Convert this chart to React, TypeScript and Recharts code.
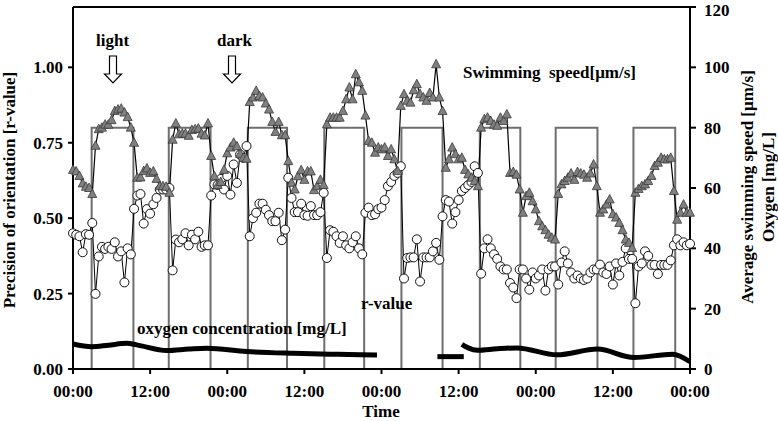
import React from "react";
import { ComposedChart, Line, XAxis, YAxis, ReferenceLine } from "recharts";

// time grid, every half hour over four days
const HOURS = Array.from({ length: 193 }, (_, i) => i * 0.5);

// average swimming speed [µm/s], right axis
const SPEED = [
  66, 65.5, 64, 61.5, 60.4, 60, 58, 74, 79.5, 80,
  81, 81, 82.5, 85.5, 86, 86.3, 85, 83.5, 80, 75,
  63.4, 63.5, 65.6, 66.5, 65, 65.5, 63, 60.6, 60.6, 60.4,
  58.4, 76, 81.4, 77.8, 78, 78, 77.3, 79.2, 79.5, 79.7,
  78, 77.4, 81.4, 70.6, 63.9, 61, 62, 66, 71.5, 73.4,
  75, 73.8, 71.3, 70, 69.7, 88.5, 90, 92.2, 90.5, 90,
  88, 86, 81.9, 78.6, 81.9, 77.5, 77.5, 68.9, 61.7, 59.5,
  63.9, 65.9, 62.7, 65.5, 65.5, 59.3, 60.6, 62.7, 61, 81.1,
  83.3, 83.3, 83.3, 83.3, 85.5, 89.4, 93.3, 89.4, 97.7, 95,
  92.2, 84, 75.6, 75, 71.7, 73.4, 72.8, 73.4, 70.6, 72.8,
  69.5, 65.6, 87.2, 91.1, 88.9, 88.3, 92.4, 94.4, 91.1, 90,
  88.9, 91.5, 90, 101, 90, 85.5, 66.7, 69.5, 73.4, 71.2,
  69.5, 70, 66, 64.5, 63.4, 62.3, 60.6, 80, 82.8, 83.3,
  82.2, 81, 80.6, 83.3, 82.2, 84.4, 65, 65.3, 64.4, 59.5,
  51.8, 57.3, 58.4, 55.6, 52.9, 49, 47.3, 46, 44.5, 43.5,
  42.9, 58, 61.2, 62.3, 63.4, 64.8, 62.7, 65.3, 64.8, 64.4,
  63.4, 64.8, 67.8, 60.6, 51.8, 52.9, 54.5, 56.2, 51.3, 50.2,
  48.4, 46, 42.9, 41.8, 40.1, 58.4, 59.7, 60.6, 61.2, 62.3,
  64, 67.3, 68.4, 70, 69.5, 69.5, 70, 59, 49.5, 51.8,
  54.5, 51.8, 51.8,
];

// precision of orientation, left axis
const R_VALUE = [
  0.45, 0.445, 0.44, 0.387, 0.447, 0.445, 0.484, 0.249, 0.373, 0.405,
  0.398, 0.405, 0.398, 0.42, 0.373, 0.39, 0.287, 0.4, 0.38, 0.531,
  0.575, 0.58, 0.482, 0.53, 0.515, 0.546, 0.567, 0.595, 0.595, 0.595,
  0.6, 0.327, 0.429, 0.42, 0.43, 0.45, 0.41, 0.445, 0.43, 0.455,
  0.405, 0.41, 0.41, 0.575, 0.612, 0.61, 0.63, 0.595, 0.64, 0.578,
  0.678, 0.617, 0.711, 0.7, 0.739, 0.44, 0.5, 0.518, 0.548, 0.548,
  0.528, 0.51, 0.49, 0.49, 0.518, 0.427, 0.462, 0.634, 0.567, 0.52,
  0.52, 0.548, 0.51, 0.508, 0.54, 0.51, 0.51, 0.52, 0.584, 0.368,
  0.46, 0.455, 0.44, 0.418, 0.44, 0.41, 0.4, 0.42, 0.44, 0.4,
  0.38, 0.518, 0.535, 0.51, 0.513, 0.53, 0.535, 0.56, 0.606, 0.62,
  0.64, 0.65, 0.672, 0.3, 0.368, 0.37, 0.37, 0.43, 0.29, 0.37,
  0.37, 0.37, 0.39, 0.418, 0.362, 0.506, 0.56, 0.555, 0.482, 0.52,
  0.56, 0.59, 0.6, 0.61, 0.62, 0.672, 0.65, 0.316, 0.4, 0.43,
  0.4, 0.38, 0.365, 0.34, 0.33, 0.33, 0.285, 0.27, 0.235, 0.33,
  0.33, 0.3, 0.263, 0.32, 0.3, 0.31, 0.33, 0.26, 0.33, 0.34,
  0.34, 0.28, 0.353, 0.39, 0.35, 0.32, 0.3, 0.31, 0.3, 0.295,
  0.3, 0.32, 0.33, 0.33, 0.346, 0.32, 0.315, 0.34, 0.28, 0.35,
  0.31, 0.355, 0.4, 0.365, 0.365, 0.218, 0.34, 0.35, 0.39, 0.375,
  0.345, 0.345, 0.315, 0.345, 0.345, 0.345, 0.36, 0.41, 0.43, 0.41,
  0.42, 0.41, 0.415,
];

// light periods (hours), light level drawn at 80 on the right axis
const LIGHT_ON = [2.9, 14.9, 27.2, 39.1, 51.1, 63.3, 75.1, 87.2];
const LIGHT_OFF = [9.4, 21.4, 33.3, 45.3, 57.5, 69.6, 81.6, 93.7];
const LIGHT_LEVEL = 80;

// oxygen concentration [mg/L], three recorded pieces
const OXY_A_T = [0, 2.9, 5.5, 8.4, 9.9, 14.6, 18, 20.8, 27, 34.3, 40, 44.7, 47.3];
const OXY_A = [8.3, 7.4, 7.9, 8.5, 8.0, 6.1, 6.6, 6.9, 5.8, 5.2, 4.9, 4.7, 4.6];
const OXY_B_T = [56.7, 60.8];
const OXY_B = [4.1, 4.1];
const OXY_C_T = [60.5, 61.5, 62.9, 66, 69.1, 75.3, 81.6, 87.3, 93.3, 96];
const OXY_C = [8.2, 7.0, 6.2, 6.7, 7.0, 4.7, 6.6, 3.8, 4.9, 2.4];

const X_TICKS = [0, 12, 24, 36, 48, 60, 72, 84, 96];
const LEFT_TICKS = [0, 0.25, 0.5, 0.75, 1.0];
const RIGHT_TICKS = [0, 20, 40, 60, 80, 100, 120];

const data = HOURS.map((t, i) => ({ t, speed: SPEED[i], r: R_VALUE[i] }));

const light: { t: number; v: number }[] = [{ t: 0, v: 0 }];
LIGHT_ON.forEach((on, i) => {
  light.push({ t: on, v: 0 }, { t: on, v: LIGHT_LEVEL });
  light.push({ t: LIGHT_OFF[i], v: LIGHT_LEVEL }, { t: LIGHT_OFF[i], v: 0 });
});
light.push({ t: 96, v: 0 });

const toPts = (ts: number[], vs: number[]) => ts.map((t, i) => ({ t, v: vs[i] }));
const oxyA = toPts(OXY_A_T, OXY_A);
const oxyB = toPts(OXY_B_T, OXY_B);
const oxyC = toPts(OXY_C_T, OXY_C);

const font = "'Liberation Serif', 'Times New Roman', serif";
const tickStyle = { fill: "#000", fontSize: 17, fontWeight: 700, fontFamily: font };

const Triangle = (p: any) => {
  const { cx, cy, index } = p;
  if (cx == null || cy == null) return <g key={index} />;
  return (
    <path
      key={index}
      d={`M${cx},${cy - 5} L${cx + 4.5},${cy + 3.5} L${cx - 4.5},${cy + 3.5} Z`}
      fill="#808080"
      stroke="#3a3a3a"
      strokeWidth={0.8}
    />
  );
};

const Ring = (p: any) => {
  const { cx, cy, index } = p;
  if (cx == null || cy == null) return <g key={index} />;
  return <circle key={index} cx={cx} cy={cy} r={4.5} fill="#fff" stroke="#111" strokeWidth={1} />;
};

const Arrow = ({ x }: { x: number }) => (
  <path
    d={`M${x - 3.5},56 L${x + 3.5},56 L${x + 3.5},74 L${x + 8.5},74 L${x},83 L${x - 8.5},74 L${x - 3.5},74 Z`}
    fill="#fff"
    stroke="#000"
    strokeWidth={1.2}
  />
);

export default function App() {
  const text = { fontFamily: font, fontWeight: 700, fontSize: 17, fill: "#000" } as const;
  return (
    <div style={{ position: "absolute", left: 0, top: 0, width: 778, height: 421, background: "#fff" }}>
      <ComposedChart width={778} height={421} data={data} margin={{ top: 7, right: 0, bottom: 0, left: 0 }}>
        <XAxis
          dataKey="t"
          type="number"
          domain={[0, 96]}
          ticks={X_TICKS}
          tickFormatter={(t: number) => (t % 24 === 0 ? "00:00" : "12:00")}
          height={52}
          tick={tickStyle}
          tickSize={5}
          tickMargin={11}
          axisLine={{ stroke: "#000", strokeWidth: 2 }}
          tickLine={{ stroke: "#000", strokeWidth: 2 }}
        />
        <YAxis
          yAxisId="r"
          orientation="left"
          domain={[0, 1.2]}
          ticks={LEFT_TICKS}
          tickFormatter={(v: number) => v.toFixed(2)}
          width={73}
          tick={tickStyle}
          tickSize={5}
          tickMargin={5}
          axisLine={{ stroke: "#000", strokeWidth: 2 }}
          tickLine={{ stroke: "#000", strokeWidth: 2 }}
        />
        <YAxis
          yAxisId="v"
          orientation="right"
          domain={[0, 120]}
          ticks={RIGHT_TICKS}
          width={88}
          tick={{ ...tickStyle, textAnchor: "start" }}
          tickSize={6}
          tickMargin={8}
          axisLine={{ stroke: "#000", strokeWidth: 2 }}
          tickLine={{ stroke: "#000", strokeWidth: 2 }}
        />
        <ReferenceLine yAxisId="v" y={120} stroke="#000" strokeWidth={2} />
        <Line
          yAxisId="v"
          data={light}
          dataKey="v"
          type="linear"
          stroke="#6e6e6e"
          strokeWidth={2}
          dot={false}
          isAnimationActive={false}
        />
        {[oxyA, oxyB, oxyC].map((seg, i) => (
          <Line
            key={i}
            yAxisId="v"
            data={seg}
            dataKey="v"
            type="monotone"
            stroke="#000"
            strokeWidth={5}
            dot={false}
            isAnimationActive={false}
          />
        ))}
        <Line
          yAxisId="r"
          dataKey="r"
          type="linear"
          stroke="#000"
          strokeWidth={1}
          dot={Ring}
          isAnimationActive={false}
        />
        <Line
          yAxisId="v"
          dataKey="speed"
          type="linear"
          stroke="#000"
          strokeWidth={1.2}
          dot={Triangle}
          isAnimationActive={false}
        />
      </ComposedChart>
      <svg
        width={778}
        height={421}
        style={{ position: "absolute", left: 0, top: 0, pointerEvents: "none" }}
      >
        <text x={96} y={46} {...text}>light</text>
        <text x={217} y={46} {...text}>dark</text>
        <Arrow x={113} />
        <Arrow x={232} />
        <text x={463} y={78} {...text} style={{ whiteSpace: "pre" }}>Swimming  speed[μm/s]</text>
        <text x={361} y={309} {...text}>r-value</text>
        <text x={137} y={334} {...text}>oxygen concentration [mg/L]</text>
        <text x={381} y={417} {...text} textAnchor="middle">Time</text>
        <text transform="translate(15,190) rotate(-90)" {...text} textAnchor="middle">
          Precision of orientation [r-value]
        </text>
        <text transform="translate(753,187) rotate(-90)" {...text} textAnchor="middle">
          Average swimming speed [μm/s]
        </text>
        <text transform="translate(774,187) rotate(-90)" {...text} textAnchor="middle">
          Oxygen [mg/L]
        </text>
      </svg>
    </div>
  );
}
